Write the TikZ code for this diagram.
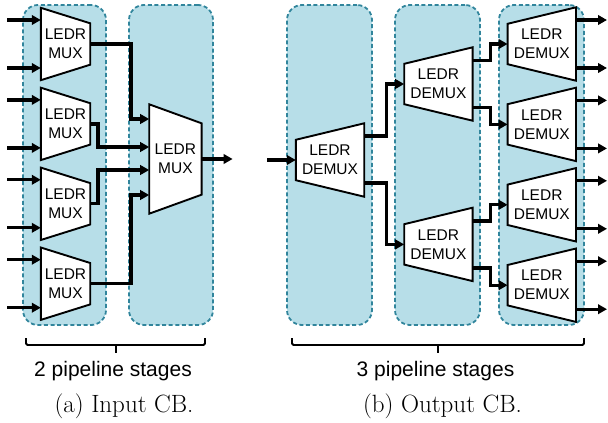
\documentclass[tikz,border=0pt]{standalone}
\usepackage{fontspec}
\newfontfamily\arialfont{Liberation Sans}
\usetikzlibrary{positioning,arrows.meta,calc}
\pgfdeclarelayer{bg}
\pgfdeclarelayer{shp}
\pgfsetlayers{bg,shp,main}
\definecolor{stagefill}{HTML}{B7DEE8}
\definecolor{stageedge}{HTML}{31859C}

\begin{document}
\begin{tikzpicture}[
    x=1pt, y=-1pt,
    stage/.style={draw=stageedge, fill=stagefill, line width=1.8pt,
                  dash pattern=on 4pt off 2.6pt, rounded corners=15pt,
                  minimum width=84pt, minimum height=320pt, inner sep=0pt},
    mux/.style={minimum width=49pt, minimum height=72pt, inner sep=0pt,
                align=center, font=\arialfont\fontsize{15.5}{19}\selectfont},
    bigmux/.style={mux, minimum width=52pt, minimum height=109pt},
    demux/.style={mux, minimum width=68pt, minimum height=73pt},
    trap/.style={draw, fill=white, line width=1.9pt, line join=miter},
    wire/.style={line width=3.2pt, -{Triangle[length=9pt,width=9.5pt]}},
    wirein/.style={line width=3.2pt, {Triangle[length=9pt,width=9.5pt]}-},
    bracket/.style={line width=1.8pt, rounded corners=1.5pt},
    sflbl/.style={font=\arialfont\fontsize{21}{24}\selectfont, anchor=base},
    caplbl/.style={font=\fontsize{25}{28}\selectfont, anchor=base},
  ]
  \useasboundingbox (0,0) rectangle (608,423);

  % --- pipeline stages (background) ---
  \begin{pgfonlayer}{bg}
    \node[stage, minimum width=83pt] (sa1) at (64.5,165) {};
    \node[stage] (sa2) at (171,165) {};
    \node[stage, minimum width=85pt] (sb1) at (329.5,165) {};
    \node[stage, minimum width=85pt] (sb2) at (437.5,165) {};
    \node[stage, minimum width=85pt] (sb3) at (541.5,165) {};
  \end{pgfonlayer}

  % --- (a) input CB: 4 muxes into one ---
  \node[mux] (m1) at (65.5,44) {LEDR\\MUX};
  \node[mux, below=7.5pt of m1] (m2) {LEDR\\MUX};
  \node[mux, below=7.5pt of m2] (m3) {LEDR\\MUX};
  \node[mux, below=7.5pt of m3] (m4) {LEDR\\MUX};
  \node[bigmux, right=59pt of m1, yshift=-115pt] (M) {LEDR\\MUX};

  \foreach \m in {m1,m2,m3,m4} {
    \draw[wirein] ([yshift=24pt]\m.west) -- ++(-34,0);
    \draw[wirein] ([yshift=-24pt]\m.west) -- ++(-34,0);
  }
  \draw[wire] (m1.east) -- ++(40.7,0) |- ([yshift=40pt]M.west);
  \draw[wire] (m2.east) -- ++(7.7,0) |- ([yshift=12pt]M.west);
  \draw[wire] (m3.east) -- ++(7.7,0) |- ([yshift=-11pt]M.west);
  \draw[wire] (m4.east) -- ++(40.7,0) |- ([yshift=-36pt]M.west);
  \draw[wire] (M.east) -- ++(31,0);

  % --- (b) output CB: one demux into 8 outputs ---
  \node[demux] (d1) at (330,160) {LEDR\\DEMUX};
  \node[demux, right=40pt of d1, yshift=76pt] (d2a) {LEDR\\DEMUX};
  \node[demux, below=87pt of d2a] (d2b) {LEDR\\DEMUX};
  \node[demux, right=35pt of d2a, yshift=40pt] (d3a) {LEDR\\DEMUX};
  \node[demux, below=7pt of d3a] (d3b) {LEDR\\DEMUX};
  \node[demux, below=7pt of d3b] (d3c) {LEDR\\DEMUX};
  \node[demux, below=7pt of d3c] (d3d) {LEDR\\DEMUX};

  \draw[wirein] (d1.west) -- ++(-29,0);
  \draw[wire] ([yshift=24pt]d1.east) -- ++(22,0) |- (d2a.west);
  \draw[wire] ([yshift=-23pt]d1.east) -- ++(22,0) |- (d2b.west);
  \draw[wire] ([yshift=23.5pt]d2a.east) -- ++(18,0) |- (d3a.west);
  \draw[wire] ([yshift=-23.5pt]d2a.east) -- ++(18,0) |- (d3b.west);
  \draw[wire] ([yshift=23.5pt]d2b.east) -- ++(18,0) |- (d3c.west);
  \draw[wire] ([yshift=-23.5pt]d2b.east) -- ++(18,0) |- (d3d.west);
  \foreach \d in {d3a,d3b,d3c,d3d} {
    \draw[wire] ([yshift=24pt]\d.east) -- ++(31,0);
    \draw[wire] ([yshift=-24pt]\d.east) -- ++(31,0);
  }

  % trapezoid outlines under the labels
  \begin{pgfonlayer}{shp}
    \foreach \n/\s in {m1/15.5,m2/15.5,m3/15.5,m4/15.5,M/19}
      \draw[trap] (\n.north west) -- ($(\n.north east)+(0,\s)$)
        -- ($(\n.south east)+(0,-\s)$) -- (\n.south west) -- cycle;
    \foreach \n in {d1,d2a,d2b,d3a,d3b,d3c,d3d}
      \draw[trap] ($(\n.north west)+(0,16.5)$) -- (\n.north east)
        -- (\n.south east) -- ($(\n.south west)+(0,-16.5)$) -- cycle;
  \end{pgfonlayer}

  % --- brackets and captions ---
  \draw[bracket] (26,338) -- (26,345) -- (205,345) -- (205,338);
  \draw[bracket] (116,345) -- (116,353);
  \draw[bracket] (292,338) -- (292,345) -- (584,345) -- (584,338);
  \draw[bracket] (438,345) -- (438,353);

  \node[sflbl] (stga) at (113,376) {2 pipeline stages};
  \node[sflbl] (stgb) at (435.5,376) {3 pipeline stages};
  \node[caplbl] (capa) at (124,412) {(a) Input CB.};
  \node[caplbl] (capb) at (442.5,412) {(b) Output CB.};
\end{tikzpicture}
\end{document}
